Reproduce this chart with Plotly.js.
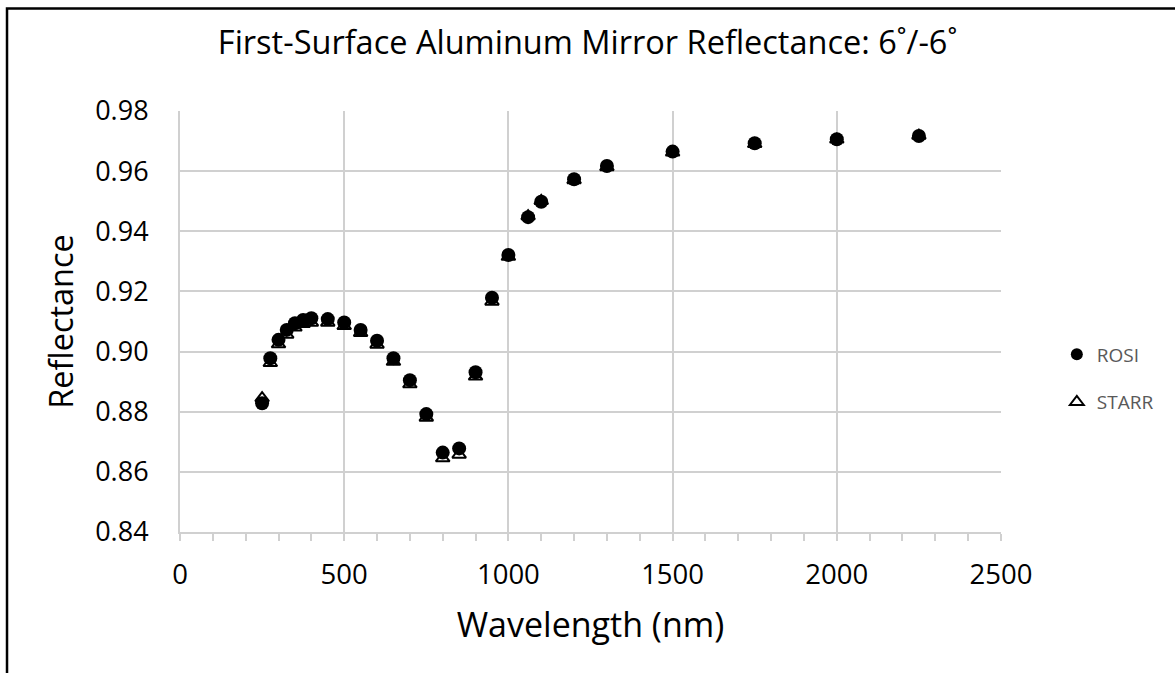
<!DOCTYPE html>
<html>
<head>
<meta charset="utf-8">
<script src="https://cdn.plot.ly/plotly-3.0.1.min.js"></script>
<style>
html,body{margin:0;padding:0;background:#fff;}
#chart{width:1175px;height:673px;}
</style>
</head>
<body>
<div id="chart"></div>
<script>
const wavelength = [250,275,300,325,350,375,400,450,500,550,600,650,700,750,800,850,900,950,1000,1060,1100,1200,1300,1500,1750,2000,2250];
const rosi  = [0.8828,0.8978,0.9039,0.9072,0.9094,0.9105,0.9111,0.9108,0.9097,0.9072,0.9036,0.8978,0.8905,0.8792,0.8664,0.8678,0.8931,0.9179,0.9321,0.9447,0.9498,0.9573,0.9617,0.9665,0.9693,0.9706,0.9717];
const starr = [0.8845,0.8962,0.9024,0.9056,0.9080,0.9092,0.9096,0.9096,0.9085,0.9062,0.9023,0.8966,0.8891,0.8780,0.8645,0.8657,0.8917,0.9166,0.9315,0.9450,0.9501,0.9570,0.9613,0.9662,0.9690,0.9705,0.9718];
const seriesNames = ['ROSI','STARR'];
const titleText = 'First-Surface Aluminum Mirror Reflectance: 6˚/-6˚';
const xTitle = 'Wavelength (nm)';
const yTitle = 'Reflectance';

const font = '"Open Sans", "Noto Sans", sans-serif';

const traces = [
  {x: wavelength, y: rosi, name: seriesNames[0], legendgroup: 'g1', type: 'scatter', mode: 'markers',
   marker: {symbol: 'circle', size: 14, color: '#000'}},
  {x: wavelength, y: starr, name: seriesNames[1], legendgroup: 'g2', type: 'scatter', mode: 'markers',
   marker: {symbol: 'triangle-up-open', size: 12, color: '#000', line: {width: 2, color: '#000'}}}
];

const layout = {
  width: 1175, height: 673,
  margin: {l: 180, r: 174, t: 111, b: 141},
  paper_bgcolor: '#fff', plot_bgcolor: '#fff',
  font: {family: font, color: '#000'},
  title: {text: titleText, font: {family: font, size: 32.5, color: '#000'}, x: 0.5, xanchor: 'center', y: 0.936, yanchor: 'middle'},
  showlegend: true,
  legend: {x: 1.068, xanchor: 'left', y: 0.365, yanchor: 'middle', font: {family: font, size: 19, color: '#595959'},
           bgcolor: 'rgba(0,0,0,0)', itemsizing: 'constant', traceorder: 'grouped', tracegroupgap: 20},
  xaxis: {
    range: [0, 2500], dtick: 500, tick0: 0,
    showgrid: true, gridcolor: '#d0d0d0', gridwidth: 2,
    showline: true, linecolor: '#d0d0d0', linewidth: 2,
    ticks: 'outside', ticklen: 7, tickcolor: '#d0d0d0', tickwidth: 2,
    minor: {dtick: 100, ticks: 'outside', ticklen: 7, tickcolor: '#d0d0d0', tickwidth: 2, showgrid: false},
    tickfont: {family: font, size: 27.5, color: '#000'},
    ticklabelstandoff: 10,
    zeroline: false,
    title: {text: xTitle, font: {family: font, size: 34, color: '#000'}, standoff: 22}
  },
  yaxis: {
    range: [0.84, 0.98], dtick: 0.02, tick0: 0.84, tickformat: '.2f',
    showgrid: true, gridcolor: '#d0d0d0', gridwidth: 2,
    showline: true, linecolor: '#d0d0d0', linewidth: 2,
    ticks: '', ticklabelstandoff: 24,
    tickfont: {family: font, size: 27, color: '#000'},
    zeroline: false,
    title: {text: yTitle, font: {family: font, size: 32.5, color: '#000'}, standoff: 12}
  },
  shapes: [
    {type: 'rect', xref: 'paper', yref: 'paper', x0: -0.2107, x1: 1.3, y0: -0.4, y1: 1.2435,
     line: {color: '#000', width: 2.5}, fillcolor: 'rgba(0,0,0,0)', layer: 'above'}
  ]
};

Plotly.newPlot('chart', traces, layout, {displayModeBar: false, staticPlot: true});
</script>
</body>
</html>
